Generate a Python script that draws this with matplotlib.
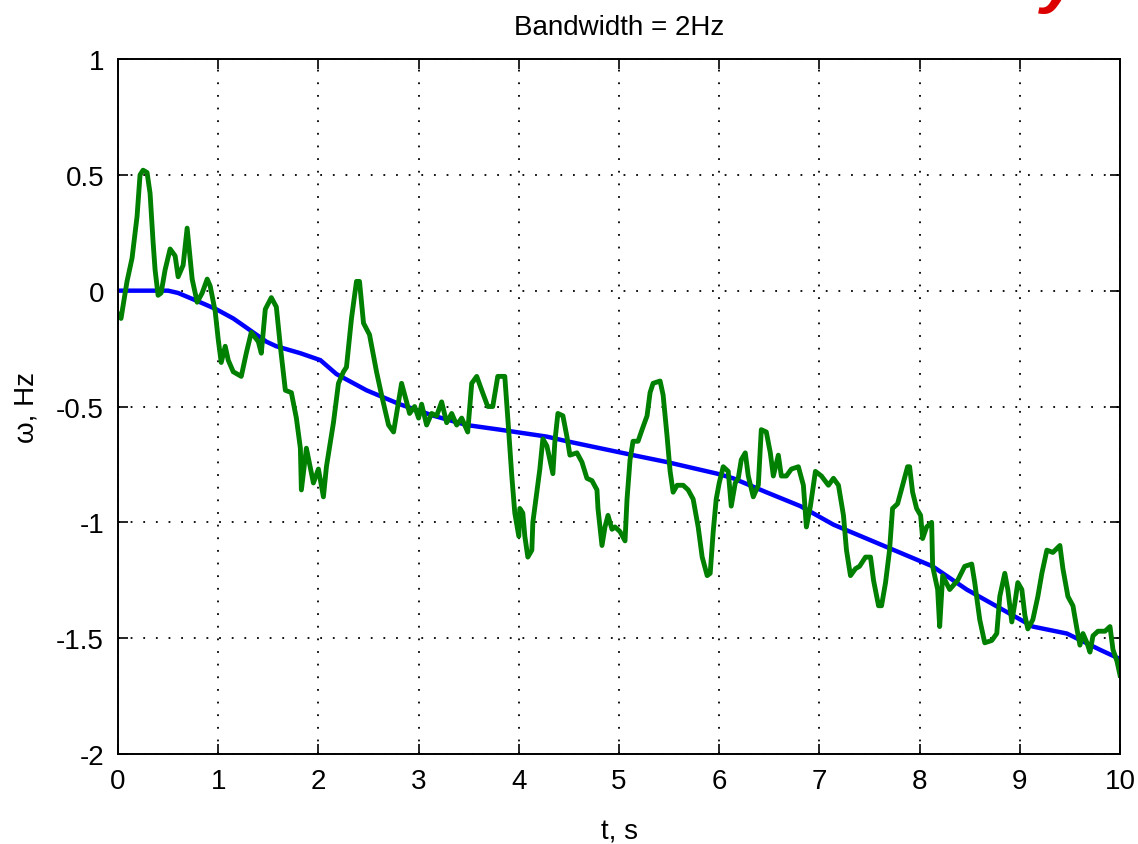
import numpy as np
import matplotlib
matplotlib.use("Agg")
import matplotlib.pyplot as plt

plt.rcParams['font.family'] = ['Liberation Sans', 'DejaVu Sans']

t_ref = [0.0, 0.5, 0.6, 0.82, 0.98, 1.15, 1.25, 1.48, 1.58, 1.82, 2.02, 2.18, 2.48,
         2.81, 3.15, 3.48, 3.81, 4.28, 4.48, 5.14, 5.48, 5.98, 6.14, 6.47, 6.81,
         7.14, 7.47, 7.80, 8.13, 8.47, 8.80, 9.13, 9.47, 9.80, 10.0]
w_ref = [0.0, 0.0, -0.01, -0.05, -0.08, -0.12, -0.15, -0.22, -0.24, -0.27, -0.30,
         -0.36, -0.43, -0.49, -0.54, -0.58, -0.60, -0.63, -0.65, -0.71, -0.74,
         -0.79, -0.81, -0.87, -0.93, -1.01, -1.07, -1.13, -1.19, -1.29, -1.37,
         -1.45, -1.48, -1.55, -1.59]

t_est = [0.0, 0.03, 0.06, 0.09, 0.14, 0.19, 0.22, 0.25, 0.29, 0.32, 0.35, 0.37, 0.40,
         0.43, 0.47, 0.52, 0.57, 0.60, 0.65, 0.69, 0.72, 0.74, 0.79, 0.84, 0.89,
         0.92, 0.97, 1.00, 1.03, 1.07, 1.10, 1.15, 1.23, 1.28, 1.33, 1.40, 1.43,
         1.47, 1.53, 1.58, 1.62, 1.67, 1.73, 1.78, 1.82, 1.83, 1.88, 1.95, 2.00,
         2.05, 2.08, 2.15, 2.20, 2.25, 2.28, 2.33, 2.38, 2.41, 2.45, 2.51, 2.58,
         2.63, 2.70, 2.75, 2.80, 2.83, 2.88, 2.91, 2.96, 3.00, 3.03, 3.08, 3.13,
         3.18, 3.23, 3.28, 3.33, 3.38, 3.43, 3.49, 3.53, 3.58, 3.63, 3.69, 3.74,
         3.79, 3.86, 3.89, 3.93, 3.96, 4.00, 4.01, 4.04, 4.06, 4.09, 4.13, 4.14,
         4.18, 4.21, 4.24, 4.28, 4.31, 4.34, 4.36, 4.39, 4.44, 4.48, 4.51, 4.58,
         4.63, 4.68, 4.73, 4.78, 4.79, 4.83, 4.86, 4.89, 4.93, 4.96, 5.01, 5.06,
         5.08, 5.11, 5.14, 5.19, 5.23, 5.28, 5.31, 5.34, 5.41, 5.44, 5.48, 5.51,
         5.54, 5.58, 5.64, 5.69, 5.74, 5.79, 5.83, 5.88, 5.91, 5.94, 5.97, 6.00,
         6.04, 6.09, 6.12, 6.16, 6.19, 6.22, 6.26, 6.29, 6.34, 6.39, 6.42, 6.47,
         6.51, 6.54, 6.59, 6.62, 6.67, 6.72, 6.79, 6.84, 6.87, 6.91, 6.96, 7.02,
         7.09, 7.14, 7.19, 7.24, 7.27, 7.31, 7.36, 7.40, 7.46, 7.51, 7.54, 7.59,
         7.62, 7.66, 7.70, 7.73, 7.78, 7.83, 7.88, 7.90, 7.93, 7.97, 8.01, 8.03,
         8.07, 8.12, 8.13, 8.18, 8.20, 8.23, 8.30, 8.38, 8.45, 8.52, 8.55, 8.60,
         8.65, 8.72, 8.77, 8.80, 8.85, 8.88, 8.92, 8.95, 8.98, 9.02, 9.05, 9.08,
         9.13, 9.18, 9.22, 9.27, 9.33, 9.40, 9.43, 9.48, 9.53, 9.57, 9.60, 9.63,
         9.67, 9.70, 9.73, 9.78, 9.85, 9.90, 9.93, 9.97, 10.0]
w_est = [-0.10, -0.12, -0.04, 0.04, 0.14, 0.32, 0.50, 0.52, 0.51, 0.42, 0.21, 0.09, -0.02,
         -0.01, 0.09, 0.18, 0.15, 0.06, 0.11, 0.27, 0.14, 0.05, -0.05, -0.01, 0.05,
         0.02, -0.09, -0.21, -0.31, -0.24, -0.30, -0.35, -0.37, -0.27, -0.18, -0.22, -0.27,
         -0.08, -0.03, -0.07, -0.24, -0.43, -0.44, -0.55, -0.68, -0.86, -0.68, -0.83, -0.77,
         -0.89, -0.76, -0.57, -0.40, -0.35, -0.33, -0.12, 0.04, 0.04, -0.14, -0.19, -0.35,
         -0.45, -0.58, -0.61, -0.48, -0.40, -0.48, -0.53, -0.50, -0.55, -0.49, -0.58, -0.53,
         -0.54, -0.48, -0.57, -0.53, -0.58, -0.55, -0.61, -0.40, -0.37, -0.43, -0.50, -0.50,
         -0.37, -0.37, -0.55, -0.80, -0.96, -1.06, -0.94, -0.96, -1.06, -1.15, -1.12, -1.00,
         -0.87, -0.77, -0.64, -0.67, -0.73, -0.79, -0.65, -0.53, -0.54, -0.63, -0.71, -0.70,
         -0.74, -0.81, -0.82, -0.86, -0.94, -1.10, -1.02, -0.97, -1.03, -1.02, -1.04, -1.08,
         -0.90, -0.73, -0.65, -0.65, -0.60, -0.54, -0.44, -0.40, -0.39, -0.45, -0.63, -0.78,
         -0.87, -0.84, -0.84, -0.86, -0.90, -1.02, -1.15, -1.23, -1.22, -1.04, -0.90, -0.83,
         -0.76, -0.78, -0.93, -0.83, -0.81, -0.73, -0.70, -0.80, -0.89, -0.84, -0.60, -0.61,
         -0.70, -0.80, -0.71, -0.80, -0.80, -0.77, -0.76, -0.84, -1.02, -0.93, -0.78, -0.80,
         -0.84, -0.81, -0.84, -0.97, -1.12, -1.23, -1.20, -1.19, -1.15, -1.15, -1.25, -1.36,
         -1.36, -1.26, -1.12, -0.94, -0.92, -0.84, -0.76, -0.76, -0.87, -0.94, -0.97, -1.07,
         -1.02, -1.00, -1.19, -1.29, -1.45, -1.23, -1.29, -1.25, -1.19, -1.18, -1.26, -1.42,
         -1.52, -1.51, -1.48, -1.32, -1.22, -1.29, -1.43, -1.35, -1.26, -1.29, -1.40, -1.46,
         -1.42, -1.32, -1.22, -1.12, -1.13, -1.10, -1.20, -1.32, -1.36, -1.46, -1.53, -1.48,
         -1.52, -1.56, -1.49, -1.47, -1.47, -1.45, -1.55, -1.60, -1.66]

x_ticks = [0, 1, 2, 3, 4, 5, 6, 7, 8, 9, 10]
y_ticks = [-2, -1.5, -1, -0.5, 0, 0.5, 1]
y_labels = ['-2', '-1.5', '-1', '-0.5', '0', '0.5', '1']

fig = plt.figure(figsize=(11.38, 8.45), dpi=100)
ax = fig.add_axes([0.1037, 0.1065, 0.8805, 0.8225])

ax.plot(t_ref, w_ref, color='#0000ff', lw=3.2, solid_joinstyle='miter')
ax.plot(t_est, w_est, color='#008000', lw=3.5)

ax.set_xlim(0, 10)
ax.set_ylim(-2, 1)
ax.set_xticks(x_ticks)
ax.set_xticklabels([str(v) for v in x_ticks])
ax.set_yticks(y_ticks)
ax.set_yticklabels(y_labels)

ax.grid(True, color='black', linestyle=(0, (1, 6)), linewidth=1.3)
ax.tick_params(direction='in', length=7, width=1.2, top=True, right=True,
               labelsize=20, pad=10)
for s in ax.spines.values():
    s.set_linewidth(1.4)

ax.set_title('Bandwidth = 2Hz', fontsize=20, pad=18)
ax.set_xlabel('t, s', fontsize=20, labelpad=18)
ax.set_ylabel('ω, Hz', fontsize=20, labelpad=12)

# fragment of a red glyph cut off at the top edge
fig.text(1060 / 1138, 1.0, 'y', color='#dd0000', fontsize=50, fontstyle='italic',
         fontweight='bold', ha='center', va='baseline')

plt.savefig('out.png', dpi=100)
